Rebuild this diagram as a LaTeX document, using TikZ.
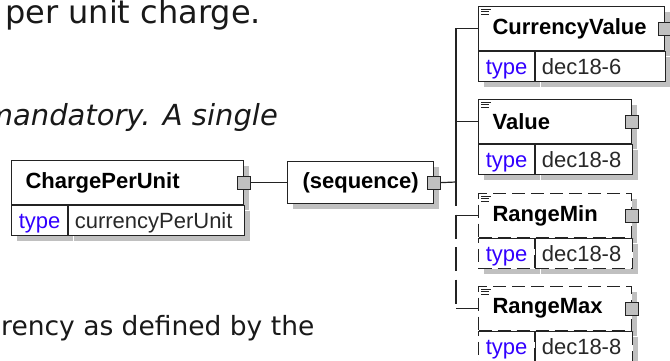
\documentclass[tikz,border=0pt]{standalone}
\usepackage{fontspec}
\setmainfont{Liberation Sans}
\newfontfamily\docfont{DejaVu Sans}
\usetikzlibrary{positioning, shadows}
\definecolor{boxline}{RGB}{35,35,35}
\definecolor{shadowgray}{RGB}{192,192,192}
\definecolor{typeblue}{RGB}{50,0,255}
\definecolor{valgray}{RGB}{40,40,40}
\hyphenpenalty=10000
\exhyphenpenalty=10000
\tikzset{
  elname/.style={rectangle, draw=boxline, fill=white, line width=1.2pt, anchor=north west, minimum height=44pt, inner xsep=14pt, inner ysep=0pt, align=left, font=\fontsize{22}{24}\selectfont\bfseries, general shadow={fill=shadowgray, shadow xshift=5pt, shadow yshift=-5pt}},
  eltype/.style={rectangle, draw=boxline, fill=white, line width=1.2pt, anchor=north west, minimum width=56pt, minimum height=30pt, inner sep=0pt, text height=18pt, text depth=3pt, text=typeblue, general shadow={fill=shadowgray, shadow xshift=5pt, shadow yshift=-5pt}},
  elval/.style={rectangle, draw=boxline, fill=white, line width=1.2pt, minimum height=30pt, inner xsep=6pt, inner ysep=0pt, text height=18pt, text depth=3pt, align=left, text=valgray, general shadow={fill=shadowgray, shadow xshift=5pt, shadow yshift=-5pt}},
  optional/.style={dash pattern=on 13pt off 6pt},
  conn/.style={rectangle, draw=boxline, fill=shadowgray, line width=1pt, minimum size=13pt, inner sep=0pt},
  wire/.style={draw=boxline, line width=1.2pt},
  optwire/.style={wire, dash pattern=on 24pt off 8.5pt},
  docicon/.style={draw=boxline, line width=1pt},
  doctext/.style={font=\docfont\fontsize{28}{30}\selectfont, inner sep=0pt, text=black!90}
}
\begin{document}
\begin{tikzpicture}[x=1pt, y=-1pt,
        every node/.style={font=\fontsize{22}{24}\selectfont}
        ]
            \useasboundingbox (0,0) rectangle (670,360);
            \fill[white] (0,0) rectangle (670,360);
            \clip (0,0) rectangle (670,360);

            % --- Texto de fondo ---
            \node (txttop) [doctext, font=\docfont\fontsize{32}{34}\selectfont, anchor=base west] at (5,23) {per unit charge.};
            \node (txtmid) [doctext, font=\docfont\itshape\fontsize{29}{31}\selectfont, anchor=base east] at (278,125) {mandatory. A single};
            \node (txtbot) [doctext, font=\docfont\fontsize{26.5}{28}\selectfont, anchor=base west] at (1,335) {rency as defined by the};

            % --- Elemento raiz ---
            \node (cpu) [elname, text width=204pt] at (11,160) {ChargePerUnit};
            \node (cput) [eltype] at (cpu.south west) {type};
            \node (cpuv) [elval, text width=164pt, right=0pt of cput] {currencyPerUnit};
            \node (cpusq) [conn] at (cpu.east) {};

            % --- Secuencia ---
            \node (seq) [elname, minimum width=146pt, minimum height=42pt, inner xsep=0pt] at (287,161) {(sequence)};
            \node (seqsq) [conn] at (seq.east) {};

            % --- Hijos obligatorios ---
            \node (cv) [elname, text width=158pt] at (478,6) {CurrencyValue};
            \node (cvt) [eltype] at (cv.south west) {type};
            \node (cvv) [elval, text width=118pt, right=0pt of cvt] {dec18-6};
            \node (cvsq) [conn] at (cv.east) {};

            \node (val) [elname, text width=125pt] at (478,99) {Value};
            \node (valt) [eltype] at (val.south west) {type};
            \node (valv) [elval, text width=85pt, right=0pt of valt] {dec18-8};
            \node (valsq) [conn] at (val.east) {};

            % --- Hijos opcionales (borde discontinuo) ---
            \node (rmin) [elname, optional, text width=125pt] at (478,193) {RangeMin};
            \node (rmint) [eltype, optional] at (rmin.south west) {type};
            \node (rminv) [elval, optional, text width=85pt, right=0pt of rmint] {dec18-8};
            \draw[wire] (rmin.south west) -- (rmin.south east);
            \draw[wire] (rmint.north east) -- (rmint.south east);
            \node (rminsq) [conn] at (rmin.east) {};

            \node (rmax) [elname, optional, text width=125pt] at (478,286) {RangeMax};
            \node (rmaxt) [eltype, optional] at (rmax.south west) {type};
            \node (rmaxv) [elval, optional, text width=85pt, right=0pt of rmaxt] {dec18-8};
            \draw[wire] (rmax.south west) -- (rmax.south east);
            \draw[wire] (rmaxt.north east) -- (rmaxt.south east);
            \node (rmaxsq) [conn] at (rmax.east) {};

            % Icono de documentacion
            \foreach \el in {cv, val, rmin, rmax} {
                \draw[docicon] ([shift={(3,3)}]\el.north west) -- ++(10,0);
                \draw[docicon] ([shift={(3,5.5)}]\el.north west) -- ++(8,0);
                \draw[docicon] ([shift={(3,8)}]\el.north west) -- ++(8,0);
            }

            % --- Conexiones ---
            \coordinate (jn) at (456,182);
            \draw[wire] (cpusq.east) -- (seq.west);
            \draw[wire] (seqsq.east) -- (jn);
            \draw[wire] (cv.west) -| (jn);
            \draw[wire] (val.west) -- (val.west -| jn);

            \coordinate (rminpt) at (rmin.west -| jn);
            \coordinate (rmaxpt) at (rmax.west -| jn);
            \draw[optwire] (jn) -- (rmaxpt);
            \draw[wire] (rminpt) -- (rmin.west);
            \draw[wire] (rmaxpt) -- (rmax.west);
\end{tikzpicture}
\end{document}
